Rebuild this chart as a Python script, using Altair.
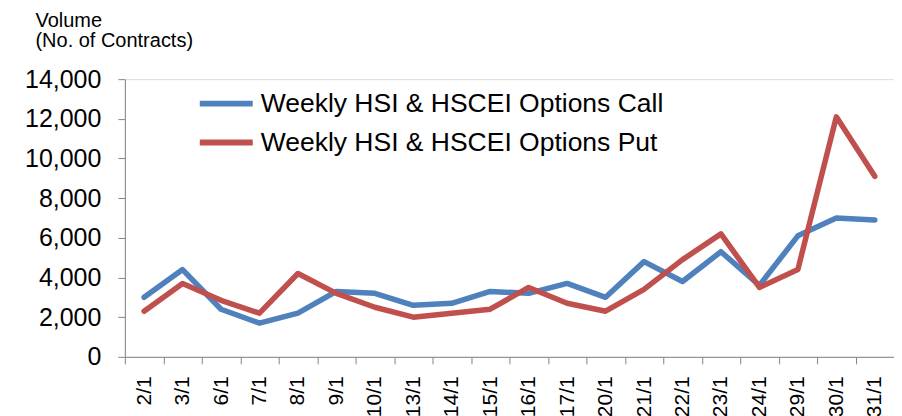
import altair as alt
import pandas as pd

dates = ["2/1", "3/1", "6/1", "7/1", "8/1", "9/1", "10/1", "13/1", "14/1", "15/1",
         "16/1", "17/1", "20/1", "21/1", "22/1", "23/1", "24/1", "29/1", "30/1", "31/1"]
call_vals = [3000, 4400, 2400, 1700, 2200, 3300, 3200, 2600, 2700, 3300,
             3200, 3700, 3000, 4800, 3800, 5300, 3600, 6100, 7000, 6900]
put_vals = [2300, 3700, 2850, 2200, 4200, 3200, 2500, 2000, 2200, 2400,
            3500, 2700, 2300, 3400, 4900, 6200, 3500, 4400, 12100, 9100]
series_names = ["Weekly HSI & HSCEI Options Call", "Weekly HSI & HSCEI Options Put"]
series_colors = ["#4F81BD", "#C0504D"]
y_ticks = [0, 2000, 4000, 6000, 8000, 10000, 12000, 14000]

rows = []
for i, d in enumerate(dates):
    rows.append({"date": d, "order": i, "series": series_names[0], "value": call_vals[i]})
    rows.append({"date": d, "order": i, "series": series_names[1], "value": put_vals[i]})
df = pd.DataFrame(rows)

font = "Liberation Sans"
axis_grey = "#868686"

chart = alt.Chart(df).mark_line(strokeWidth=5.5, strokeCap="round", strokeJoin="round").encode(
    x=alt.X("date:N", sort=dates,
            scale=alt.Scale(type="band", paddingInner=0, paddingOuter=0),
            axis=alt.Axis(title=None, labelAngle=-90, labelFontSize=21, labelPadding=12,
                          tickBand="extent", tickSize=7, tickColor=axis_grey,
                          domainColor=axis_grey, labelColor="#000000", labelFont=font)),
    y=alt.Y("value:Q", scale=alt.Scale(domain=[0, 14000], nice=False),
            axis=alt.Axis(values=y_ticks, format=",d", grid=False,
                          title=["Volume", "(No. of Contracts)"],
                          titleAngle=0, titleAlign="left", titleBaseline="alphabetic",
                          titleX=-90, titleY=-53, titleFontSize=20, titleFontWeight="normal",
                          titleLineHeight=20, titleFont=font, titleColor="#000000",
                          labelFontSize=25, labelPadding=17, labelFont=font, labelColor="#000000",
                          tickSize=7, tickColor=axis_grey, domainColor=axis_grey)),
    color=alt.Color("series:N", sort=series_names,
                    scale=alt.Scale(domain=series_names, range=series_colors),
                    legend=alt.Legend(title=None, orient="none", legendX=72, legendY=5,
                                      symbolType="stroke", symbolStrokeWidth=6,
                                      symbolSize=2809, clipHeight=39, rowPadding=0,
                                      labelOffset=5, padding=0, labelFontSize=26.5,
                                      labelFont=font, labelColor="#000000", labelLimit=800)),
    order="order:Q",
).properties(
    width=770, height=278,
    autosize=alt.AutoSizeParams(type="none"),
    padding={"left": 117, "top": 71, "right": 0, "bottom": 60},
).configure_view(stroke=None).configure(font=font)

chart.save("out.html", embed_options={"renderer": "svg", "actions": False})
